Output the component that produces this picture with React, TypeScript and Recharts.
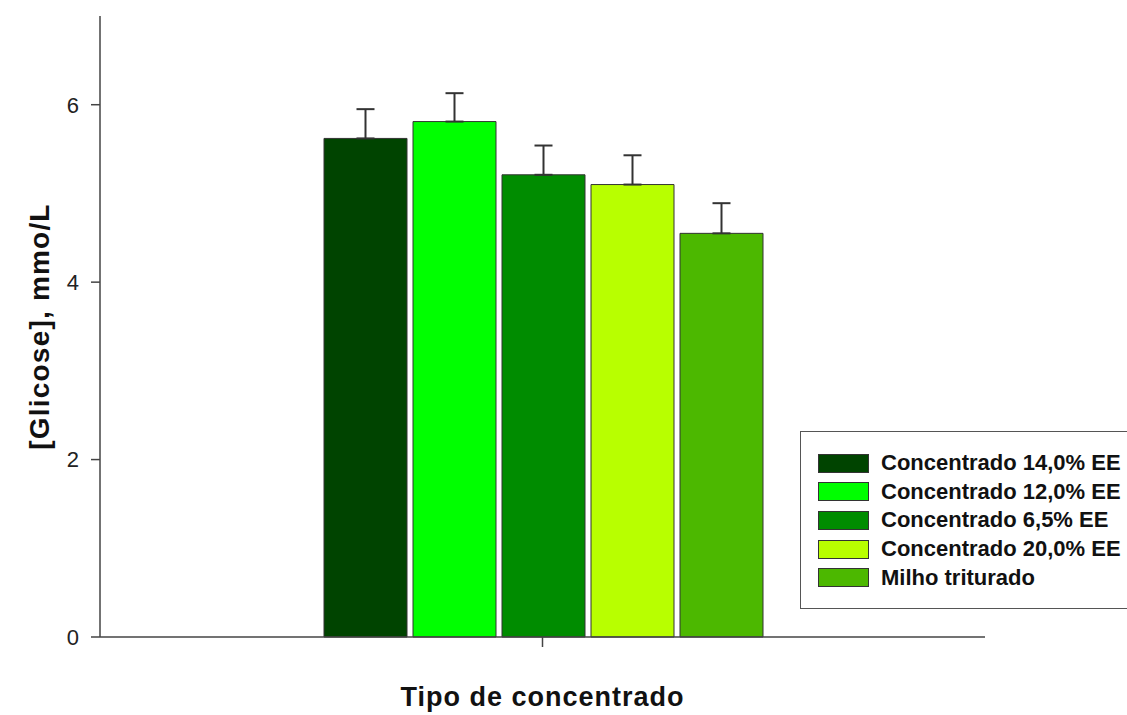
import React from 'react';
import { BarChart, Bar, XAxis, YAxis, ErrorBar, Legend, Label } from 'recharts';

const FONT = '"Liberation Sans", Arial, Helvetica, sans-serif';

const GROUP = 'Tipo de concentrado';
const SERIES_KEYS = ['c14', 'c12', 'c65', 'c20', 'milho'];
const SERIES_NAMES = [
  'Concentrado 14,0% EE',
  'Concentrado 12,0% EE',
  'Concentrado 6,5% EE',
  'Concentrado 20,0% EE',
  'Milho triturado',
];
const MEANS = [5.62, 5.81, 5.21, 5.1, 4.55];
const ERRORS = [0.33, 0.32, 0.33, 0.33, 0.34];
const COLORS = ['#004400', '#00ff00', '#008c00', '#b8ff00', '#4cb800'];
const Y_TICKS = [0, 2, 4, 6];

// single group row; error values are [down, up] so only the upper whisker shows
const row: Record<string, any> = { grupo: GROUP };
SERIES_KEYS.forEach((k, i) => {
  row[k] = MEANS[i];
  row[k + '_err'] = [0, ERRORS[i]];
});
const data = [row];

function LegendBox({ payload }: any) {
  // keep the series order instead of the legend's sorted order
  const items = [...(payload || [])].sort(
    (a: any, b: any) => SERIES_NAMES.indexOf(a.value) - SERIES_NAMES.indexOf(b.value)
  );
  return (
    <div
      style={{
        width: 340,
        height: 178,
        boxSizing: 'border-box',
        border: '1.5px solid #555',
        background: '#fff',
        padding: '17px 0 0 17px',
        fontFamily: FONT,
      }}
    >
      {items.map((p: any) => (
        <div key={p.value} style={{ display: 'flex', alignItems: 'center', height: 28.6 }}>
          <span
            style={{
              width: 51,
              height: 19,
              boxSizing: 'border-box',
              background: p.color,
              border: '1px solid #333',
              marginRight: 12,
            }}
          />
          <span style={{ fontSize: 22, fontWeight: 'bold', color: '#111', whiteSpace: 'nowrap' }}>{p.value}</span>
        </div>
      ))}
    </div>
  );
}

function YTitle({ viewBox }: any) {
  const x = viewBox.x + 49;
  const y = viewBox.y + viewBox.height / 2;
  return (
    <text
      x={x}
      y={y}
      transform={`rotate(-90 ${x} ${y})`}
      textAnchor="middle"
      fontFamily={FONT}
      fontSize={28}
      fontWeight="bold"
      letterSpacing={1.2}
      fill="#111"
    >
      [Glicose], mmo/L
    </text>
  );
}

function XTitle({ viewBox }: any) {
  const x = viewBox.x + viewBox.width / 2;
  const y = viewBox.y + 69;
  return (
    <text x={x} y={y} textAnchor="middle" fontFamily={FONT} fontSize={27} fontWeight="bold" letterSpacing={1} fill="#111">
      {GROUP}
    </text>
  );
}

export default function App() {
  return (
    <div style={{ position: 'absolute', left: 0, top: 0, width: 1127, height: 715, overflow: 'hidden', background: '#fff' }}>
      <BarChart
        width={1127}
        height={715}
        data={data}
        margin={{ top: 16, right: 142, bottom: 0, left: 0 }}
        barCategoryGap={224}
        barGap={6}
      >
        <XAxis
          dataKey="grupo"
          height={78}
          tickFormatter={() => ''}
          tickSize={10}
          axisLine={{ stroke: '#444', strokeWidth: 1.5 }}
          tickLine={{ stroke: '#444', strokeWidth: 1.5 }}
        >
          <Label content={<XTitle />} />
        </XAxis>
        <YAxis
          width={100}
          domain={[0, 7]}
          ticks={Y_TICKS}
          tickSize={9}
          tickMargin={12}
          tick={{ fill: '#222', fontSize: 22, fontFamily: FONT }}
          axisLine={{ stroke: '#444', strokeWidth: 1.5 }}
          tickLine={{ stroke: '#444', strokeWidth: 1.5 }}
        >
          <Label content={<YTitle />} />
        </YAxis>
        <Legend
          layout="vertical"
          align="center"
          verticalAlign="middle"
          content={<LegendBox />}
          wrapperStyle={{ left: 800, top: 431, width: 340 }}
        />
        {SERIES_KEYS.map((k, i) => (
          <Bar
            key={k}
            dataKey={k}
            name={SERIES_NAMES[i]}
            fill={COLORS[i]}
            stroke="#333"
            strokeWidth={1}
            isAnimationActive={false}
          >
            <ErrorBar dataKey={k + '_err'} width={9} stroke="#333" strokeWidth={2} direction="y" />
          </Bar>
        ))}
      </BarChart>
    </div>
  );
}
